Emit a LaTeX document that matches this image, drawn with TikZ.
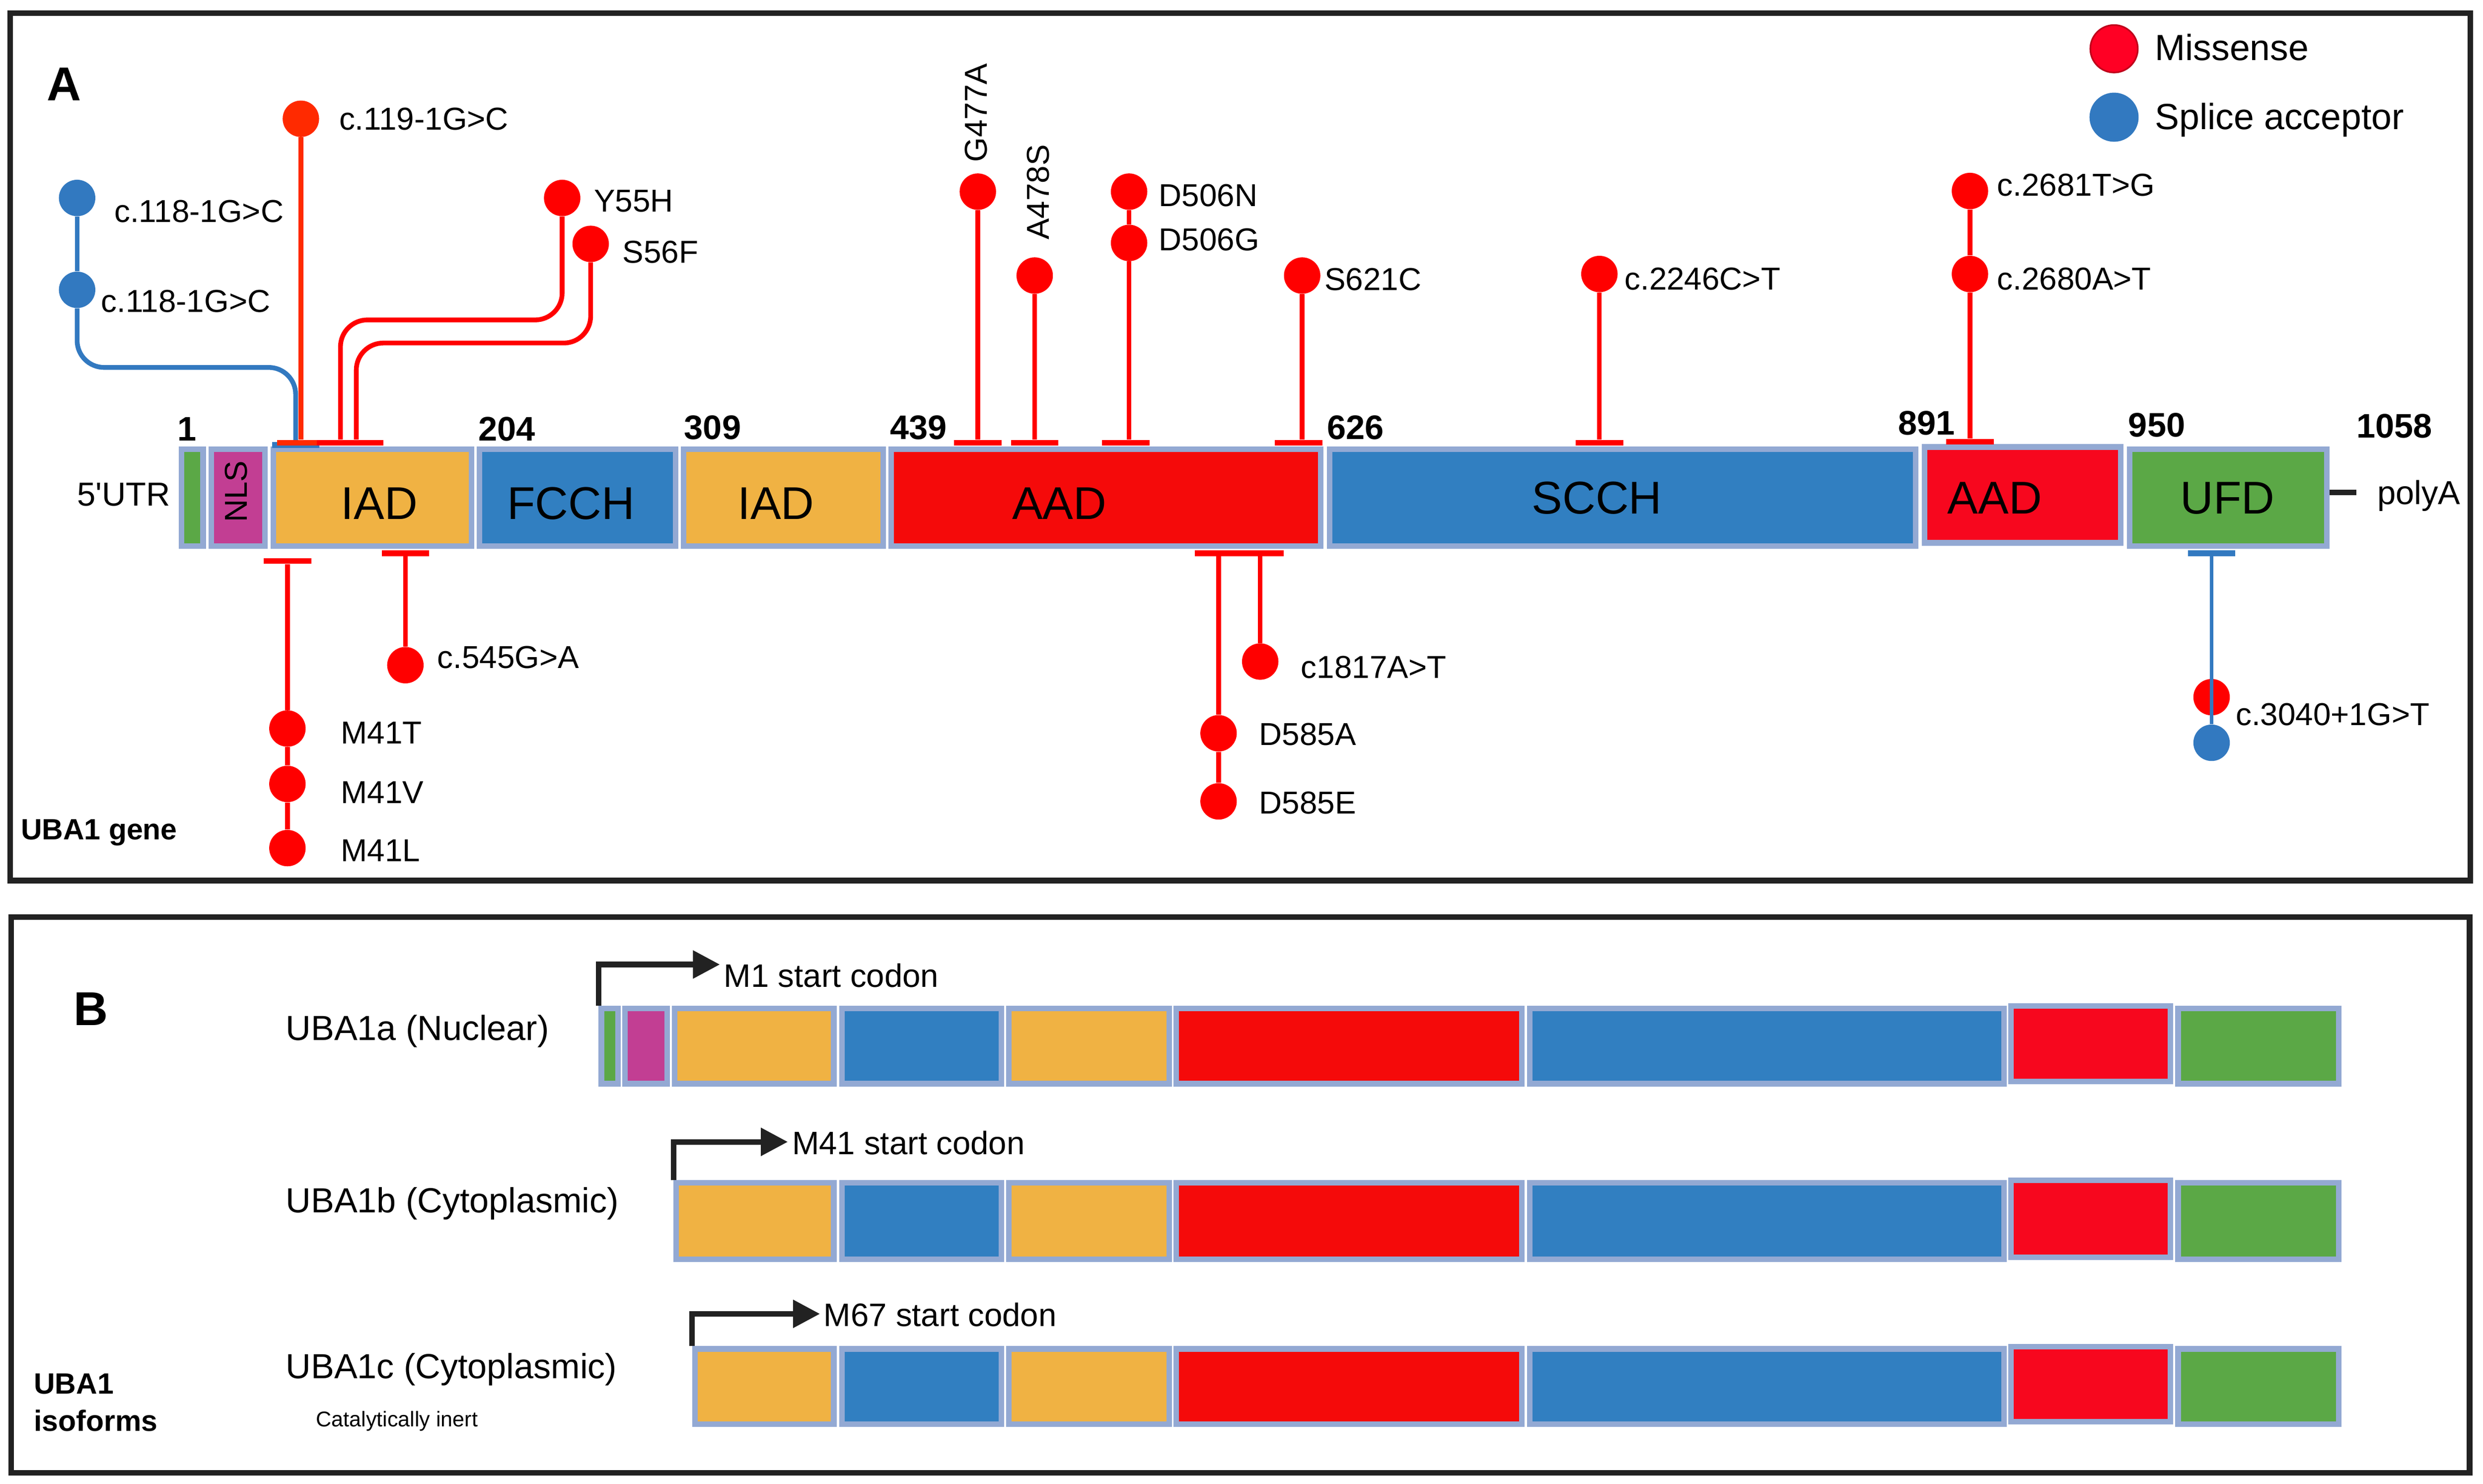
\documentclass[tikz,border=0pt]{standalone}
\usepackage{fontspec}
\setmainfont{Liberation Sans}
\newfontfamily\nolig{Liberation Sans}
\usetikzlibrary{arrows.meta}
\definecolor{framec}{HTML}{222222}
\definecolor{bordc}{HTML}{93A9D3}
\definecolor{cgreen}{HTML}{5BA846}
\definecolor{cmag}{HTML}{C23E93}
\definecolor{corange}{HTML}{F0B243}
\definecolor{cblue}{HTML}{317FC1}
\definecolor{caad}{HTML}{F50A0A}
\definecolor{caadb}{HTML}{F7071E}
\definecolor{mred}{HTML}{FF0000}
\definecolor{mor}{HTML}{FF2A00}
\definecolor{mblue}{HTML}{3279C0}
\definecolor{legred}{HTML}{FF0024}
% name, x1, x2, y1, y2, colour
\newcommand\mkdom[6]{\node[dom,fill=#6,minimum width={(#3-#2-3.5)*1pt},minimum height={(#5-#4-3.5)*1pt}] (#1) at ({(#2+#3)/2},{(#4+#5)/2}) {};}
\newcommand\mkrowrest[3]{%
  \mkdom{#1f}{530}{634}{#2}{#3}{cblue}
  \mkdom{#1j}{635.4}{740}{#2}{#3}{corange}
  \mkdom{#1a}{741}{962.7}{#2}{#3}{caad}
  \mkdom{#1s}{964.3}{1267.2}{#2}{#3}{cblue}
  \mkdom{#1b}{1268.2}{1372.2}{(#2-1.5)}{(#3-1.5)}{caadb}
  \mkdom{#1u}{1373.7}{1478.6}{#2}{#3}{cgreen}}
\begin{document}
\begin{tikzpicture}[x=1pt,y=-1pt,
 frm/.style={draw=framec,line width=3.5pt},
 dom/.style={rectangle,draw=bordc,line width=3.5pt,inner sep=0pt},
 rdot/.style={circle,fill=mred,minimum size=23pt,inner sep=0pt},
 odot/.style={rdot,fill=mor},
 bdot/.style={rdot,fill=mblue},
 tbar/.style={rectangle,inner sep=0pt,minimum width=30pt,minimum height=3.6pt,fill=mred},
 rstem/.style={draw=mred,line width=3pt},
 ostem/.style={draw=mor,line width=3pt},
 bstem/.style={draw=mblue,line width=3pt},
 mut/.style={inner sep=0pt,anchor=west,font=\fontsize{20}{24}\selectfont,text height=14.3pt,text depth=0pt},
 num/.style={inner sep=0pt,font=\fontsize{21.5}{24}\selectfont\bfseries,text height=15.4pt,text depth=0pt},
 domlab/.style={inner sep=0pt,font=\fontsize{29}{32}\selectfont,text height=20.8pt,text depth=0pt},
 leg/.style={inner sep=0pt,anchor=west,font=\fontsize{23}{26}\selectfont,text height=16.5pt,text depth=0pt},
 iso/.style={inner sep=0pt,anchor=west,font=\fontsize{22}{26}\selectfont,text height=15.75pt,text depth=0pt},
 startlab/.style={inner sep=0pt,anchor=west,font=\fontsize{20.5}{24}\selectfont,text height=14.7pt,text depth=0pt},
 panel/.style={inner sep=0pt,font=\fontsize{30}{32}\selectfont\bfseries,text height=21.5pt,text depth=0pt},
 note/.style={inner sep=0pt,anchor=west,font=\fontsize{13.5}{16}\selectfont,text height=9.7pt,text depth=0pt},
 blab/.style={inner sep=0pt,anchor=west,font=\fontsize{18.5}{22}\selectfont\bfseries,text height=13.25pt,text depth=0pt},
 arr/.style={draw=framec,line width=3.5pt,-{Triangle[length=17pt,width=17pt]}}
]
\useasboundingbox[fill=white] (0,0) rectangle (1568,936.8);

% ---------------- frames
\draw[frm] (6.5,8.3) rectangle (1560,556);
\draw[frm] (7,579) rectangle (1559.5,930);

% ---------------- panel A : gene bar
\mkdom{ag}{113}{130}{282}{346.5}{cgreen}
\mkdom{anls}{131.7}{169}{282}{346.5}{cmag}
\mkdom{aiad}{170.8}{299.4}{282}{346.5}{corange}
\mkdom{afcch}{301}{428.5}{282}{346.5}{cblue}
\mkdom{aiadb}{430}{559.5}{282}{346.5}{corange}
\mkdom{aaad}{561}{835.7}{282}{346.5}{caad}
\mkdom{ascch}{838}{1211.5}{282}{346.5}{cblue}
\mkdom{aaadb}{1213.6}{1341}{280.5}{344.5}{caadb}
\mkdom{aufd}{1343}{1471}{282}{346.5}{cgreen}

\node[panel] (labA) at (40.5,52.8) {A};
\node[inner sep=0pt,anchor=west,font=\fontsize{21}{24}\selectfont\nolig,text height=15pt,text depth=0pt] (utr) at (48.5,312) {5'UTR};
\node[inner sep=0pt,rotate=90,font=\fontsize{20}{24}\selectfont,text height=14.3pt,text depth=0pt] (nlsl) at (149,310.4) {NLS};
\node[domlab] (liad) at (239.6,317.6) {IAD};
\node[domlab] (lfcch) at (360.5,317.6) {FCCH};
\node[domlab] (liadb) at (490,317.6) {IAD};
\node[domlab] (laad) at (669,317.6) {AAD};
\node[domlab] (lscch) at (1008.4,314) {SCCH};
\node[domlab] (laadb) at (1259.7,314) {AAD};
\node[domlab] (lufd) at (1406.7,314) {UFD};
\coordinate (padash) at (1487.9,311);
\draw[framec,line width=3.4pt] (aufd.east |- padash) -- (padash);
\node[inner sep=0pt,anchor=west,font=\fontsize{21}{24}\selectfont,text height=15pt,text depth=0pt] (polya) at (1501,311) {polyA};

\node[num] (n1) at (118,270.7) {1};
\node[num] (n204) at (320,270.5) {204};
\node[num] (n309) at (450,269.7) {309};
\node[num] (n439) at (580,269.7) {439};
\node[num] (n626) at (856,269.7) {626};
\node[num] (n891) at (1216.5,266.7) {891};
\node[num] (n950) at (1362,268) {950};
\node[num] (n1058) at (1512,268.8) {1058};

% ---------------- legend
\node[circle,fill=legred,draw=legred!75!black,line width=1pt,minimum size=30pt,inner sep=0pt] (legm) at (1335,30.8) {};
\node[circle,fill=mblue,minimum size=31pt,inner sep=0pt] (legs) at (1335,74) {};
\node[leg] (legmt) at (1360.6,29.8) {Missense};
\node[leg] (legst) at (1360.6,73.5) {Splice acceptor};

% ---------------- mutations above the bar
% c.118-1G>C (splice, blue)
\node[bdot] (c118a) at (48.7,125) {};
\node[bdot] (c118b) at (48.7,183) {};
\node[tbar,fill=mblue] (c118bar) at (186.7,281) {};
\coordinate (k1) at (48.7,232);
\coordinate (k2) at (186.7,232);
\draw[bstem] (c118a) -- (c118b);
\draw[bstem,rounded corners=17pt] (c118b) -- (k1) -- (k2) -- (c118bar);
\node[mut] (c118at) at (72,133.3) {c.118-1G>C};
\node[mut] (c118bt) at (63.6,190) {c.118-1G>C};

% c.119-1G>C
\node[odot] (c119) at (190,75) {};
\node[tbar,fill=mor] (c119bar) at (190,279.5) {};
\draw[ostem] (c119) -- (c119bar);
\node[mut] (c119t) at (214,75) {c.119-1G>C};

% Y55H and S56F
\node[rdot] (y55) at (355,125) {};
\node[rdot] (s56) at (373,154) {};
\node[tbar] (y55bar) at (215,279.5) {};
\node[tbar] (s56bar) at (227,279.5) {};
\coordinate (k3) at (355,202);
\coordinate (k4) at (215,202);
\coordinate (k5) at (373,216.6);
\coordinate (k6) at (225,216.6);
\draw[rstem,rounded corners=17pt] (y55) -- (k3) -- (k4) -- (y55bar);
\draw[rstem,rounded corners=17pt] (s56) -- (k5) -- (k6) -- (k6 |- s56bar.north);
\node[mut] (y55t) at (375,126.5) {Y55H};
\node[mut] (s56t) at (393,158.8) {S56F};

% G477A, A478S
\node[rdot] (g477) at (617.5,121) {};
\node[tbar] (g477bar) at (617.5,279.5) {};
\draw[rstem] (g477) -- (g477bar);
\node[mut,rotate=90,anchor=center] (g477t) at (616,71.2) {G477A};
\node[rdot] (a478) at (653.4,174) {};
\node[tbar] (a478bar) at (653.4,279.5) {};
\draw[rstem] (a478) -- (a478bar);
\node[mut,rotate=90,anchor=center] (a478t) at (655.4,121.3) {A478S};

% D506N / D506G
\node[rdot] (d506n) at (713,121) {};
\node[rdot] (d506g) at (713,153.4) {};
\node[tbar] (d506bar) at (711,279.5) {};
\draw[rstem] (d506n) -- (d506g) -- (d506g |- d506bar.north);
\node[mut] (d506nt) at (731.6,123) {D506N};
\node[mut] (d506gt) at (731.6,151) {D506G};

% S621C
\node[rdot] (s621) at (822.3,174) {};
\node[tbar] (s621bar) at (820,279.5) {};
\draw[rstem] (s621) -- (s621 |- s621bar.north);
\node[mut] (s621t) at (836.3,176) {S621C};

% c.2246C>T
\node[rdot] (c2246) at (1010,173) {};
\node[tbar] (c2246bar) at (1010,279.5) {};
\draw[rstem] (c2246) -- (c2246bar);
\node[mut] (c2246t) at (1025.7,175.7) {c.2246C>T};

% c.2681T>G / c.2680A>T
\node[rdot] (c2681) at (1244,120.6) {};
\node[rdot] (c2680) at (1244,173) {};
\node[tbar] (c2680bar) at (1244,279) {};
\draw[rstem] (c2681) -- (c2680) -- (c2680bar);
\node[mut] (c2681t) at (1261,116.5) {c.2681T>G};
\node[mut] (c2680t) at (1261,175.7) {c.2680A>T};

% ---------------- mutations below the bar
% M41
\node[tbar] (m41bar) at (181.5,354.2) {};
\node[rdot] (m41t) at (181.5,460) {};
\node[rdot] (m41v) at (181.5,495) {};
\node[rdot] (m41l) at (181.5,535.5) {};
\draw[rstem] (m41bar) -- (m41t) -- (m41v) -- (m41l);
\node[mut] (m41tt) at (215.1,462.6) {M41T};
\node[mut] (m41vt) at (215.1,500) {M41V};
\node[mut] (m41lt) at (215.1,536.7) {M41L};

% c.545G>A
\node[tbar] (c545bar) at (256,349.3) {};
\node[rdot] (c545) at (256,420) {};
\draw[rstem] (c545bar) -- (c545);
\node[mut] (c545t) at (276,414.7) {c.545G>A};

% D585A / D585E and c1817A>T
\node[tbar] (d585bar) at (769.5,349.3) {};
\node[tbar] (c1817bar) at (795.8,349.3) {};
\node[rdot] (d585a) at (769.5,463) {};
\node[rdot] (d585e) at (769.5,506) {};
\node[rdot] (c1817) at (795.8,417.7) {};
\draw[rstem] (d585bar) -- (d585a) -- (d585e);
\draw[rstem] (c1817bar) -- (c1817);
\node[mut] (c1817t) at (821.4,421) {c1817A>T};
\node[mut] (d585at) at (795,463.4) {D585A};
\node[mut] (d585et) at (795,506.8) {D585E};

% c.3040+1G>T
\node[tbar,fill=mblue] (c3040bar) at (1396.6,349.3) {};
\node[rdot] (c3040r) at (1396.6,440.2) {};
\node[bdot] (c3040b) at (1396.6,469) {};
\draw[draw=mblue,line width=2.2pt] (c3040bar) -- (c3040b);
\node[mut] (c3040t) at (1411.7,450.7) {c.3040+1G>T};

\node[blab] (ubagene) at (13,523.6) {UBA1 gene};

% ---------------- panel B
\node[panel] (labB) at (57.3,636.6) {B};

% row 1
\mkdom{rag}{378}{392}{635}{686}{cgreen}
\mkdom{ran}{393}{423}{635}{686}{cmag}
\mkdom{rai}{424.3}{528.3}{635}{686}{corange}
\mkrowrest{ra}{635}{686}
% row 2
\mkdom{rbi}{425.3}{528.3}{745}{797}{corange}
\mkrowrest{rb}{745}{797}
% row 3
\mkdom{rci}{437}{528.3}{850}{901}{corange}
\mkrowrest{rc}{850}{901}

\node[iso] (isoa) at (180.3,648.8) {UBA1a (Nuclear)};
\node[iso] (isob) at (180.3,757.7) {UBA1b (Cytoplasmic)};
\node[iso] (isoc) at (180.3,862.5) {UBA1c (Cytoplasmic)};
\node[note] (inert) at (199.5,896) {Catalytically inert};
\node[blab] (uba1) at (21.2,873.5) {UBA1};
\node[blab] (isoforms) at (21.2,897.1) {isoforms};

\coordinate (t1) at (454.6,609);
\coordinate (t2) at (497.5,721);
\coordinate (t3) at (517.8,829.6);
\draw[arr] (rag.north west) |- (t1);
\draw[arr] (rbi.north west) |- (t2);
\draw[arr] (rci.north west) |- (t3);
\node[startlab] (m1t) at (457,616) {M1 start codon};
\node[startlab] (m41s) at (500,721.5) {M41 start codon};
\node[startlab] (m67s) at (520,830) {M67 start codon};
\end{tikzpicture}
\end{document}
